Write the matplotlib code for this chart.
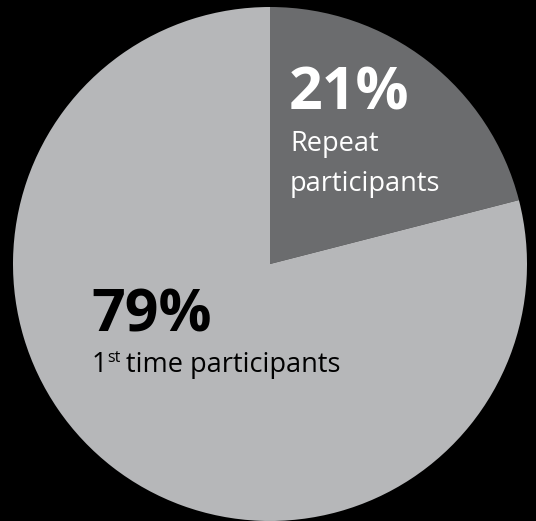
"""
Pie chart: repeat vs first-time participants, saved to out.png.
"""

import matplotlib

matplotlib.use("Agg")

import matplotlib.pyplot as plt

labels = ["Repeat participants", "1st time participants"]
shares = [21, 79]
colors = ["#6b6c6e", "#b6b7b9"]

W, H, DPI = 536, 521, 100
CX, CY, R = 270, 264, 257  # pie centre / radius in pixels (from top-left)
BIG, SMALL = 42.5, 19.5

plt.rcParams["font.family"] = ["Open Sans", "DejaVu Sans"]

fig = plt.figure(figsize=(W / DPI, H / DPI), dpi=DPI, facecolor="black")
ax = fig.add_axes([(CX - R) / W, (H - CY - R) / H, 2 * R / W, 2 * R / H])
ax.set_facecolor("black")
ax.pie(shares, colors=colors, startangle=90, counterclock=False,
       radius=1, wedgeprops=dict(linewidth=0))
ax.set_xlim(-1, 1)
ax.set_ylim(-1, 1)
ax.set_aspect("equal")
ax.axis("off")


def px(x, y):
    """Pixel position (top-left origin) -> data coords."""
    return (x - CX) / R, (CY - y) / R


# 21% label
ax.text(*px(289, 110), f"{shares[0]}%", color="white", fontsize=BIG,
        fontweight="bold", ha="left", va="baseline")
ax.text(*px(290, 151), "Repeat", color="white", fontsize=SMALL,
        ha="left", va="baseline")
ax.text(*px(290, 191), "participants", color="white", fontsize=SMALL,
        ha="left", va="baseline")

# 79% label
ax.text(*px(91, 332), f"{shares[1]}%", color="black", fontsize=BIG,
        fontweight="bold", ha="left", va="baseline")
one = ax.text(*px(92, 372), "1", color="black", fontsize=SMALL,
              ha="left", va="baseline")
fig.canvas.draw()
one_right = one.get_window_extent().x1
sup = ax.text(*px(one_right, 362), "st", color="black", fontsize=11.5,
              ha="left", va="baseline")
fig.canvas.draw()
sup_right = sup.get_window_extent().x1
ax.text(*px(sup_right + 5, 372), "time participants", color="black",
        fontsize=SMALL, ha="left", va="baseline")

fig.savefig("out.png", dpi=DPI, facecolor="black")
plt.close(fig)
